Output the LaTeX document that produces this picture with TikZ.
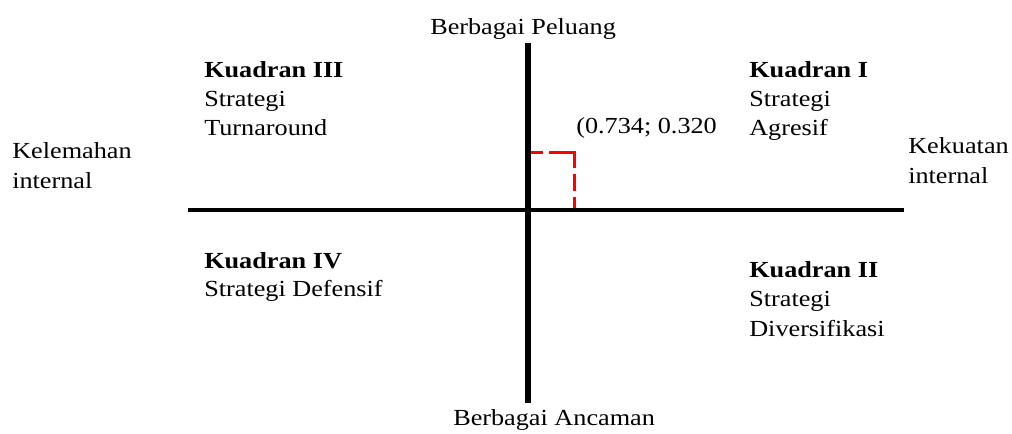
\documentclass[tikz,border=0pt]{standalone}
\usepackage{fontspec}
\setmainfont{Liberation Serif}[FakeStretch=1.14]
\begin{document}
\begin{tikzpicture}[x=0.75pt,y=-0.75pt,
  lbl/.style={anchor=base west, inner sep=0pt, font=\fontsize{17.25}{20}\selectfont},
  bl/.style={anchor=base west, inner sep=0pt, font=\fontsize{17.25}{20}\selectfont\bfseries},
  axisv/.style={line width=4.2pt},
  axish/.style={line width=3pt},
  guide/.style={red, line width=2.7pt, dash pattern={on 11.25pt off 4.5pt on 30.4pt off 4.5pt on 12.75pt off 4.5pt on 12pt off 4.5pt}}]
\useasboundingbox (0,0) rectangle (1012,433);
% coordinates
\coordinate (vt) at (528,43);
\coordinate (vb) at (528,403);
\coordinate (hl) at (188,210);
\coordinate (hr) at (904,210);
\coordinate (py) at (528,152.5);
\coordinate (pc) at (574.5,152.5);
\coordinate (px) at (574.5,210);
% guide
\draw[guide] (py) -- (pc) -- (px);
% axes
\draw[axisv] (vt) -- (vb);
\draw[axish] (hl) -- (hr);
% axis labels
\node[lbl] (top) at (430,34) {Berbagai Peluang};
\node[lbl] (bot) at (453,425) {Berbagai Ancaman};
\node[lbl] (kl1) at (12,158) {Kelemahan};
\node[lbl] (kl2) at (12,188) {internal};
\node[lbl] (kk1) at (908,153) {Kekuatan};
\node[lbl] (kk2) at (908,183) {internal};
% quadrants
\node[bl]  (q3a) at (204,77) {Kuadran III};
\node[lbl] (q3b) at (204,106) {Strategi};
\node[lbl] (q3c) at (204,135) {Turnaround};
\node[bl]  (q1a) at (749,77) {Kuadran I};
\node[lbl] (q1b) at (749,106) {Strategi};
\node[lbl] (q1c) at (749,135) {Agresif};
\node[lbl] (pt) at (576,133) {(0.734; 0.320};
\node[bl]  (q4a) at (204,268) {Kuadran IV};
\node[lbl] (q4b) at (204,296) {Strategi Defensif};
\node[bl]  (q2a) at (749,277) {Kuadran II};
\node[lbl] (q2b) at (749,306) {Strategi};
\node[lbl] (q2c) at (749,336) {Diversifikasi};
\end{tikzpicture}
\end{document}
